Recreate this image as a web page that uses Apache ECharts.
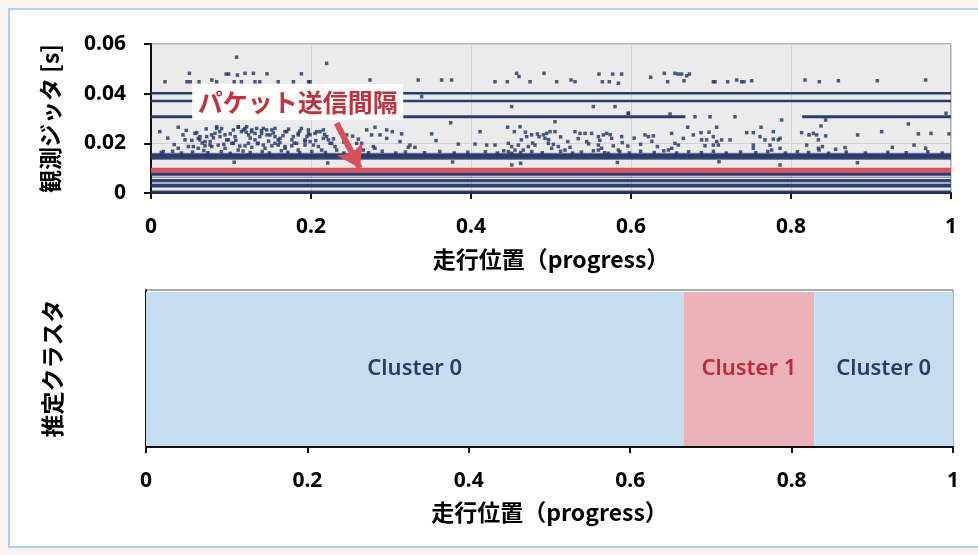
<!DOCTYPE html>
<html>
<head>
<meta charset="utf-8">
<script src="https://cdn.jsdelivr.net/npm/echarts@6/dist/echarts.min.js"></script>
<style>
  html, body { margin: 0; padding: 0; width: 978px; height: 555px; overflow: hidden; background: #fcf2ef; }
  #frame { position: absolute; left: 8px; top: 8px; width: 990px; height: 536px; background: #ffffff;
           border: 2px solid #a6d3f0; border-right: none; }
  #chart { position: absolute; left: 0; top: 0; width: 978px; height: 555px; }
</style>
</head>
<body>
<div id="frame"></div>
<div id="chart"></div>
<script>
// ---- tick labels ----
const xTickLabels = ['0', '0.2', '0.4', '0.6', '0.8', '1'];
const yTickLabels = ['0', '0.02', '0.04', '0.06'];

// ---- jitter bands: level [s] and the progress ranges where each band is present ----
const bandLevels = [0.0402, 0.0370, 0.0307, 0.0158, 0.0148, 0.0137, 0.0077, 0.0063, 0.0050, 0.0040, 0.0029, 0.0003];
const bandRanges = [
  [[0, 1]],
  [[0, 1]],
  [[0, 0.668], [0.814, 1]],
  [[0, 1]],
  [[0, 1]],
  [[0, 1]],
  [[0, 1]],
  [[0, 1]],
  [[0, 1]],
  [[0, 1]],
  [[0, 1]],
  [[0, 1]]
];

// ---- scattered jitter samples [progress, jitter s] ----
const jitterPoints = [
  [0.107,0.0547],[0.048,0.0482],[0.0175,0.0448],[0.045,0.0448],[0.049,0.0448],[0.060,0.0448],[0.076,0.0455],
  [0.082,0.0448],[0.094,0.0479],[0.097,0.0479],[0.108,0.0475],[0.1175,0.0482],[0.128,0.0482],[0.104,0.0448],
  [0.113,0.0448],[0.130,0.0448],[0.136,0.0448],[0.145,0.0480],[0.159,0.0448],[0.188,0.0480],[0.178,0.0448],[0.197,0.0448],
  [0.011,0.0247],[0.034,0.0265],[0.040,0.0234],[0.0425,0.0214],[0.055,0.0240],[0.059,0.0220],[0.061,0.0214],
  [0.0696,0.0227],[0.074,0.0207],[0.080,0.0240],[0.082,0.0260],[0.0925,0.0234],[0.0967,0.0214],[0.103,0.0254],
  [0.105,0.0227],[0.109,0.0265],[0.113,0.0247],[0.1175,0.0260],[0.122,0.0234],[0.126,0.0254],[0.130,0.0240],
  [0.136,0.0227],[0.1404,0.0260],[0.145,0.0234],[0.151,0.0254],[0.155,0.0227],[0.159,0.0214],[0.1675,0.0247],
  [0.176,0.0214],[0.184,0.0234],[0.188,0.0260],[0.1925,0.0214],[0.197,0.0240],
  [0.0154,0.0167],[0.034,0.0180],[0.0467,0.0187],[0.059,0.0180],[0.0675,0.0190],[0.076,0.0187],[0.084,0.0193],
  [0.0925,0.0180],[0.101,0.0200],[0.109,0.0173],[0.1175,0.0190],[0.126,0.0184],[0.134,0.0200],[0.1425,0.0180],
  [0.151,0.0190],[0.159,0.0193],[0.1675,0.0180],[0.176,0.0190],[0.184,0.0173],[0.1925,0.0193],
  [0.0821,0.0267],[0.0883,0.0260],[0.1092,0.0267],[0.1154,0.0254],[0.1196,0.0267],[0.1258,0.0247],[0.1321,0.0260],
  [0.1383,0.0240],[0.1446,0.0254],[0.1488,0.0234],[0.1550,0.0260],[0.1613,0.0220],[0.1696,0.0247],[0.1779,0.0227],
  [0.1842,0.0240],[0.1925,0.0207],[0.1988,0.0234],[0.2071,0.0247],[0.2154,0.0220],[0.2238,0.0200],[0.0863,0.0227],
  [0.0946,0.0214],[0.1029,0.0200],[0.0613,0.0227],[0.0675,0.0207],[0.0738,0.0193],[0.0529,0.0187],[0.0758,0.0234],
  [0.1300,0.0214],[0.1217,0.0200],[0.1404,0.0193],[0.1550,0.0200],[0.1675,0.0187],[0.1821,0.0200],[0.2363,0.0247],
  [0.2446,0.0234],[0.2696,0.0254],[0.2863,0.0234],[0.2946,0.0220],[0.3113,0.0207],[0.3238,0.0193],[0.2571,0.0200],[0.2779,0.0187],
  [0.021,0.0221],[0.029,0.0195],[0.044,0.0252],[0.051,0.0212],[0.057,0.0243],[0.064,0.0201],[0.069,0.0258],
  [0.078,0.0222],[0.086,0.0247],[0.091,0.0196],[0.099,0.0238],[0.106,0.0212],[0.111,0.0189],[0.119,0.0245],
  [0.124,0.0221],[0.133,0.0199],[0.138,0.0251],[0.147,0.0209],[0.153,0.0242],[0.161,0.0203],[0.165,0.0231],
  [0.172,0.0257],[0.179,0.0201],[0.186,0.0249],[0.195,0.0228],[0.206,0.0211],[0.217,0.0236],[0.228,0.0218],
  [0.241,0.0205],[0.252,0.0229],
  [0.2196,0.0522],[0.1988,0.0448],[0.2738,0.0455],[0.334,0.0455],[0.3633,0.0455],[0.3758,0.0455],[0.3383,0.0388],
  [0.3746,0.0283],[0.280,0.0265],[0.2946,0.0254],[0.3017,0.0247],[0.3133,0.0238],[0.3508,0.0238],[0.2758,0.0234],
  [0.3563,0.0211],[0.3842,0.0197],[0.3217,0.0184],[0.330,0.0184],[0.280,0.0180],[0.2633,0.0200],[0.2654,0.0173],
  [0.1967,0.0254],[0.205,0.0240],[0.2113,0.0247],[0.2154,0.0254],[0.2196,0.0227],[0.1988,0.0207],[0.203,0.0193],
  [0.2092,0.0187],[0.2133,0.0173],[0.2217,0.0214],[0.2258,0.0200],[0.230,0.0187],[0.2321,0.0173],[0.2592,0.0217],
  [0.457,0.0482],[0.460,0.0469],[0.4913,0.0482],[0.430,0.0448],[0.4454,0.0448],[0.4738,0.0448],[0.5071,0.0448],
  [0.525,0.0455],[0.530,0.0448],[0.560,0.0479],[0.5771,0.0479],[0.5883,0.0479],[0.5642,0.0448],[0.5729,0.0448],
  [0.5842,0.0442],[0.4508,0.0348],[0.5529,0.0348],[0.580,0.0348],[0.505,0.0287],[0.5967,0.0321],
  [0.4113,0.0247],[0.4458,0.0265],[0.4542,0.0247],[0.4613,0.0267],[0.4696,0.0227],[0.4758,0.0234],[0.485,0.0227],
  [0.4904,0.0234],[0.4946,0.0240],[0.4988,0.0247],[0.505,0.0247],[0.4925,0.0220],[0.530,0.0247],[0.5363,0.0240],
  [0.5425,0.0240],[0.5508,0.0240],[0.5592,0.0227],[0.5654,0.0234],[0.5696,0.0240],[0.5758,0.0220],[0.5883,0.0227],
  [0.405,0.0197],[0.4196,0.0193],[0.430,0.0193],[0.4467,0.0200],[0.4508,0.0187],[0.455,0.0173],[0.4592,0.0193],
  [0.4717,0.0187],[0.4654,0.0173],[0.480,0.0193],[0.4967,0.0200],[0.5008,0.0180],[0.5092,0.0187],[0.5175,0.0173],
  [0.5238,0.0184],[0.5446,0.0207],[0.5592,0.0193],[0.5633,0.0180],[0.5779,0.0190],[0.5842,0.0173],[0.4467,0.0167],
  [0.4508,0.0160],[0.5592,0.0173],[0.5717,0.0160],[0.451,0.0113],
  [0.463,0.0214],[0.468,0.0245],[0.477,0.0201],[0.483,0.0238],[0.497,0.0215],[0.503,0.0196],[0.512,0.0226],
  [0.521,0.0207],[0.534,0.0219],[0.547,0.0198],[0.561,0.0212],[0.574,0.0235],[0.589,0.0203],[0.596,0.0189],
  [0.604,0.0221],[0.612,0.0196],[0.626,0.0208],[0.633,0.0187],
  [0.6246,0.0466],[0.6417,0.0482],[0.655,0.0482],[0.6592,0.0479],[0.6633,0.0479],[0.6696,0.0472],[0.673,0.0479],
  [0.6458,0.0448],[0.6663,0.0452],[0.7029,0.0448],[0.705,0.0448],[0.7208,0.0448],[0.7321,0.0455],[0.7383,0.0448],
  [0.7413,0.0448],[0.7508,0.0452],[0.5967,0.0321],[0.6488,0.0318],[0.680,0.0307],[0.6988,0.0307],[0.730,0.0307],
  [0.7883,0.0294],[0.6708,0.0265],[0.7071,0.0265],[0.6875,0.0243],[0.6975,0.0245],[0.7446,0.0243],[0.7529,0.0243],
  [0.7625,0.0265],[0.7779,0.0247],[0.6175,0.0234],[0.6217,0.0227],[0.6279,0.0230],[0.6508,0.0240],[0.6654,0.0220],
  [0.6779,0.0234],[0.6883,0.0214],[0.6946,0.0214],[0.7029,0.0227],[0.7071,0.0207],[0.7133,0.0214],[0.7238,0.0214],
  [0.7613,0.0227],[0.7675,0.0214],[0.7779,0.0217],[0.7842,0.0214],[0.7863,0.0220],[0.655,0.0200],[0.6592,0.0193],
  [0.6508,0.0180],[0.6467,0.0173],[0.6925,0.0190],[0.7029,0.0193],[0.7092,0.0193],[0.7529,0.0193],[0.7529,0.0180],
  [0.7738,0.0193],[0.7863,0.0180],[0.7758,0.0173],[0.7863,0.0113],
  [0.8175,0.0455],[0.8354,0.0448],[0.8592,0.0452],[0.9079,0.0452],[0.9683,0.0455],[0.8433,0.0294],[0.8375,0.0270],
  [0.9467,0.0278],[0.9938,0.0321],[0.8133,0.0243],[0.8225,0.0234],[0.8279,0.0240],[0.8321,0.0234],[0.8342,0.0214],
  [0.8433,0.0230],[0.8833,0.0234],[0.9133,0.0247],[0.9592,0.0238],[0.975,0.0240],[0.9975,0.0238],[0.8196,0.0193],
  [0.8342,0.0180],[0.835,0.0173],[0.8392,0.0187],[0.8558,0.0176],[0.8675,0.0183],[0.9267,0.0184],[0.9538,0.0193],[0.9683,0.0180],
  [0.013,0.0163],[0.027,0.0168],[0.038,0.0161],[0.052,0.0165],[0.066,0.0171],[0.071,0.0162],[0.088,0.0166],
  [0.099,0.0160],[0.115,0.0169],[0.124,0.0163],[0.139,0.0167],[0.148,0.0161],[0.163,0.0170],[0.171,0.0164],
  [0.186,0.0162],[0.201,0.0167],[0.218,0.0163],[0.241,0.0161],[0.255,0.0166],[0.272,0.0162],[0.289,0.0168],
  [0.306,0.0161],[0.318,0.0165],[0.342,0.0162],[0.361,0.0167],[0.379,0.0161],[0.396,0.0164],[0.418,0.0166],
  [0.433,0.0161],[0.441,0.0170],[0.462,0.0163],[0.476,0.0167],[0.489,0.0162],[0.512,0.0168],[0.527,0.0161],
  [0.538,0.0165],[0.553,0.0170],[0.567,0.0162],[0.586,0.0166],[0.598,0.0161],[0.612,0.0168],[0.629,0.0163],
  [0.641,0.0170],[0.657,0.0161],[0.672,0.0166],[0.688,0.0162],[0.703,0.0168],[0.719,0.0161],[0.737,0.0165],
  [0.756,0.0162],[0.771,0.0167],[0.793,0.0161],[0.808,0.0166],[0.822,0.0163],[0.847,0.0160],[0.869,0.0165],
  [0.893,0.0161],[0.921,0.0164],[0.944,0.0162],[0.971,0.0166],[0.989,0.0161],
  [0.104,0.0124],[0.221,0.0121],[0.377,0.0125],[0.462,0.0120],[0.583,0.0123],[0.710,0.0126],[0.883,0.0122]
];

// ---- packet send interval [s] ----
const sendInterval = 0.0092;

// ---- estimated cluster segments along progress ----
const clusterStart = [0, 0.666, 0.828];
const clusterEnd   = [0.666, 0.828, 1];
const clusterIds   = [0, 1, 0];

// ---- drawing ----
const JP = '"Noto Sans CJK JP", "Noto Sans", sans-serif';
const NUM = '"Noto Sans", "DejaVu Sans", sans-serif';
const NAVY = '#1f3567';
const bandWidth   = [2.5, 2.5, 3, 2, 5, 2, 3.5, 1.5, 3, 1.5, 3.5, 3.5];
const bandOpacity = [0.95, 0.95, 0.95, 0.55, 0.95, 0.6, 0.95, 0.45, 0.9, 0.45, 0.95, 0.95];

const chart = echarts.init(document.getElementById('chart'), null, { renderer: 'canvas' });

const titleStyle = { fontFamily: JP, fontWeight: 'bold', fontSize: 23, color: '#000' };
const tickLabelStyle = { fontFamily: NUM, fontWeight: 'bold', fontSize: 21, color: '#000' };

const series = [];
bandLevels.forEach((lvl, i) => {
  bandRanges[i].forEach(r => {
    series.push({
      type: 'line', xAxisIndex: 0, yAxisIndex: 0, silent: true, animation: false,
      showSymbol: false, z: 2,
      data: [[r[0], lvl], [r[1], lvl]],
      lineStyle: { color: NAVY, width: bandWidth[i], opacity: bandOpacity[i] }
    });
  });
});

series.push({
  type: 'scatter', xAxisIndex: 0, yAxisIndex: 0, silent: true, animation: false, z: 3,
  symbol: 'rect', symbolSize: 3.5,
  itemStyle: { color: NAVY },
  data: jitterPoints
});

series.push({
  type: 'line', xAxisIndex: 0, yAxisIndex: 0, silent: true, animation: false, z: 4,
  showSymbol: false,
  data: [[0, sendInterval], [1, sendInterval]],
  lineStyle: { color: '#d9535d', width: 5 },
  markPoint: {
    silent: true, animation: false, z: 20,
    symbol: 'rect', symbolSize: [211, 36],
    itemStyle: { color: '#ffffff' },
    label: { show: true, position: 'inside', color: '#c4323c', fontFamily: JP, fontWeight: 'bold', fontSize: 25 },
    data: [{ coord: [0.1834, 0.0366], value: 'パケット送信間隔' }]
  },
  markLine: {
    silent: true, animation: false, z: 21,
    symbol: ['none', 'arrow'], symbolSize: 22,
    lineStyle: { color: '#d9505a', width: 6, type: 'solid', opacity: 1 },
    label: { show: false },
    data: [[{ coord: [0.232, 0.0281] }, { coord: [0.261, 0.0100] }]]
  }
});

const clusterFill = ['#c6ddf0', '#ebb3b8'];
const clusterText = ['#2a3b6b', '#c02a37'];
series.push({
  type: 'custom', xAxisIndex: 1, yAxisIndex: 1, silent: true, animation: false,
  encode: { x: [0, 1] },
  data: clusterStart.map((s, i) => [s, clusterEnd[i], clusterIds[i]]),
  renderItem: (params, api) => {
    const c = api.value(2);
    const p0 = api.coord([api.value(0), 1]);
    const p1 = api.coord([api.value(1), 0]);
    return {
      type: 'rect',
      shape: { x: p0[0], y: p0[1] + 2, width: p1[0] - p0[0], height: p1[1] - p0[1] - 3 },
      style: { fill: clusterFill[c] },
      textContent: { style: { text: 'Cluster ' + c, fill: clusterText[c], font: '600 22px "Noto Sans", sans-serif' } },
      textConfig: { position: 'inside' }
    };
  }
});

function xAxisFor(gridIndex, split, gap) {
  return {
    gridIndex, type: 'value', min: 0, max: 1, interval: 0.2,
    axisLine: { show: true, onZero: false, lineStyle: { color: '#111', width: 2 } },
    axisTick: { show: true, inside: false, length: 6, lineStyle: { color: '#111', width: 2 } },
    axisLabel: Object.assign({ margin: 24, showMinLabel: true, showMaxLabel: true,
      formatter: (v, i) => xTickLabels[i] }, tickLabelStyle),
    splitLine: { show: true, lineStyle: { color: split, width: 1 } },
    name: '走行位置（progress）', nameLocation: 'middle', nameGap: gap, nameTextStyle: titleStyle
  };
}

chart.setOption({
  animation: false,
  grid: [
    { left: 151, top: 44, width: 800, height: 149, show: true, backgroundColor: '#ebebeb', borderColor: '#6e6e6e', borderWidth: 1 },
    { left: 146, top: 290, width: 807, height: 157, show: true, backgroundColor: 'rgba(0,0,0,0)', borderColor: '#555', borderWidth: 1 }
  ],
  xAxis: [xAxisFor(0, '#d2d2d2', 55), xAxisFor(1, 'rgba(200,200,200,0.4)', 54)],
  yAxis: [
    {
      gridIndex: 0, type: 'value', min: 0, max: 0.06, interval: 0.02,
      axisLine: { show: true, onZero: false, lineStyle: { color: '#111', width: 2 } },
      axisTick: { show: true, length: 7, lineStyle: { color: '#111', width: 2 } },
      axisLabel: Object.assign({ margin: 25, formatter: (v, i) => yTickLabels[i] }, tickLabelStyle),
      splitLine: { show: true, lineStyle: { color: '#d2d2d2', width: 1 } },
      name: '観測ジッタ [s]', nameLocation: 'middle', nameGap: 89, nameTextStyle: titleStyle
    },
    {
      gridIndex: 1, type: 'value', min: 0, max: 1,
      axisLine: { show: true, onZero: false, lineStyle: { color: '#111', width: 2 } },
      axisTick: { show: false }, axisLabel: { show: false }, splitLine: { show: false },
      name: '推定クラスタ', nameLocation: 'middle', nameGap: 82, nameTextStyle: titleStyle
    }
  ],
  series
});
</script>
</body>
</html>
